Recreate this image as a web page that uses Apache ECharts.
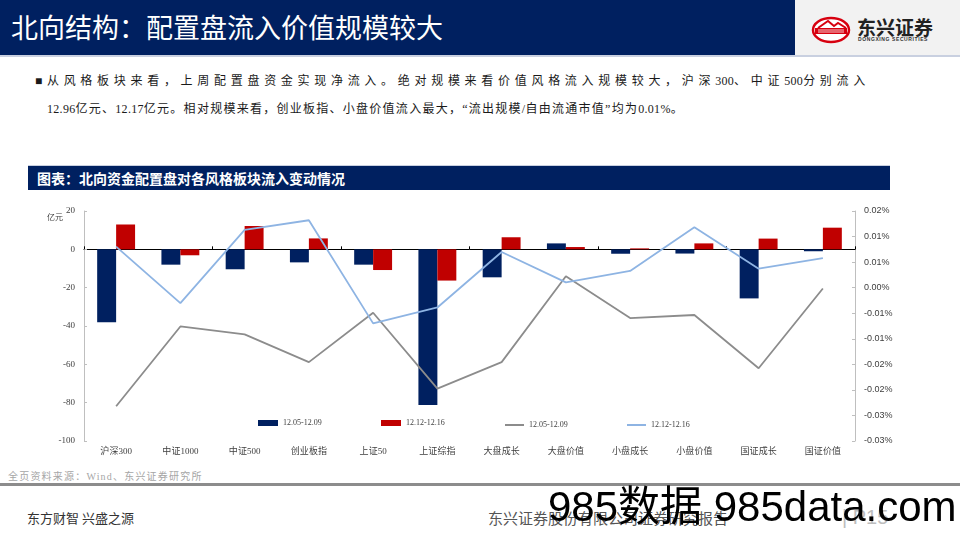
<!DOCTYPE html>
<html><head><meta charset="utf-8">
<script src="https://cdn.jsdelivr.net/npm/echarts@6/dist/echarts.min.js"></script>
<style>
html,body{margin:0;padding:0;width:960px;height:540px;overflow:hidden;background:#fff;}
#page{position:relative;width:960px;height:540px;}
.abs{position:absolute;white-space:nowrap;}
#chart{position:absolute;left:0;top:0;width:960px;height:540px;z-index:2;}
.para{font-family:'Liberation Serif','Noto Sans CJK SC',serif;font-size:12px;color:#1a1a1a;line-height:16px;}
.para .d{letter-spacing:0.3px;}
</style></head><body><div id="page">
<div class="abs" style="left:0;top:0;width:795px;height:55px;background:#002060;"></div>
<div class="abs" style="left:795px;top:0;width:165px;height:55px;background:#f2f2f2;"></div>
<div class="abs" style="left:0;top:55px;width:960px;height:2px;background:#c9d0e0;"></div>
<div class="abs" style="left:11px;top:7px;font:27px/40px 'Noto Sans CJK SC',sans-serif;color:#fff;">北向结构：配置盘流入价值规模较大</div>
<svg class="abs" style="left:810px;top:15px;" width="44" height="30" viewBox="0 0 44 30">
 <ellipse cx="21" cy="15" rx="18" ry="12" fill="#fff" stroke="#d7000f" stroke-width="2.5"/>
 <rect x="5" y="13" width="32" height="6" fill="#d7000f"/>
 <path d="M8 13 L18 6 L24 11 L28 8 L36 13" fill="none" stroke="#d7000f" stroke-width="2"/>
 <line x1="8" y1="15" x2="34" y2="15" stroke="#fff" stroke-width="0.8"/>
 <line x1="8" y1="17" x2="34" y2="17" stroke="#fff" stroke-width="0.8"/>
</svg>
<div class="abs" style="left:857px;top:16px;font:bold 19px/22px 'Noto Sans CJK SC',sans-serif;color:#222;">东兴证券</div>
<div class="abs" style="left:858px;top:36px;font:bold 5px/6px 'Liberation Sans',sans-serif;color:#333;letter-spacing:0.6px;">DONGXING SECURITIES</div>

<div id="p1" class="abs para" style="left:35px;top:73px;">■从风格板块来看，上周配置盘资金实现净流入。绝对规模来看价值风格流入规模较大，沪深<span class="d">300</span>、中证<span class="d">500</span>分别流入</div>
<div id="p2" class="abs para" style="left:47px;top:101px;"><span class="d">12.96</span>亿元、<span class="d">12.17</span>亿元。相对规模来看，创业板指、小盘价值流入最大，“流出规模<span class="d">/</span>自由流通市值”均为<span class="d">0.01%</span>。</div>

<div class="abs" style="left:28px;top:165px;width:862px;height:25px;background:#002060;border-top:1px solid #c9d0e0;box-sizing:border-box;"></div>
<div class="abs" style="left:37px;top:168px;font:bold 14px/20px 'Noto Sans CJK SC',sans-serif;color:#fff;">图表：北向资金配置盘对各风格板块流入变动情况</div>

<div class="abs" style="left:8px;top:470px;font:10px/14px 'Liberation Serif','Noto Sans CJK SC',serif;color:#a6a6a6;letter-spacing:1.2px;">全页资料来源：Wind、东兴证券研究所</div>
<div class="abs" style="left:0;top:483px;width:960px;height:3px;background:#8c8c8c;"></div>
<div class="abs" style="left:27px;top:510px;font:13px/16px 'Noto Sans CJK SC',serif;color:#333;">东方财智 兴盛之源</div>
<div class="abs" style="left:488px;top:509px;font:15px/18px 'Noto Sans CJK SC',serif;color:#555;">东兴证券股份有限公司证券研究报告</div>
<div class="abs" style="left:842px;top:505px;font:20px/24px 'Liberation Sans',sans-serif;color:#bdbdbd;">| P15</div>

<div id="chart"></div>
<div class="abs" style="left:548px;top:482px;font:42px/50px 'Liberation Sans','Noto Sans CJK SC',sans-serif;color:#000;z-index:5;">985数据 985data.com</div>
</div>
<script>
// ---- data ----
const categories = ['沪深300','中证1000','中证500','创业板指','上证50','上证综指','大盘成长','大盘价值','小盘成长','小盘价值','国证成长','国证价值'];
const flowPrev = [-38.1, -8.0, -10.4, -6.8, -8.0, -81.2, -14.6, 3.1, -2.3, -2.2, -25.6, -1.0];   // 亿元 12.05-12.09
const flowCurr = [12.96, -3.1, 12.17, 5.7, -10.8, -16.3, 6.3, 1.2, 0.5, 3.1, 5.6, 11.3];        // 亿元 12.12-12.16
const ratioPrev = [-0.0269, -0.0088, -0.0106, -0.0169, -0.0057, -0.0229, -0.0169, 0.0026, -0.0069, -0.0062, -0.0183, -0.0002]; // % 12.05-12.09
const ratioCurr = [0.0093, -0.0035, 0.0131, 0.0153, -0.0081, -0.0045, 0.0081, 0.0012, 0.0038, 0.0137, 0.0043, 0.0067];          // % 12.12-12.16
const seriesNames = ['12.05-12.09', '12.12-12.16', '12.05-12.09 ', '12.12-12.16 '];
const leftAxis = {min: -100, max: 20, interval: 20};
const rightAxis = {min: -0.0348, max: 0.0174, interval: 0.0058};

// ---- paragraph fitting (spacing only between CJK characters) ----
function fit(id, target){
  const el = document.getElementById(id);
  let n = 0;
  el.childNodes.forEach(nd => { if (nd.nodeType === 3) n += nd.textContent.length; });
  const w = el.getBoundingClientRect().width;
  el.style.letterSpacing = ((target - w) / n) + 'px';
}
fit('p1', 835); fit('p2', 637);

const serif = "'Liberation Serif','Noto Sans CJK SC',serif";
const chart = echarts.init(document.getElementById('chart'), null, {renderer: 'canvas'});
const legendBase = {orient: 'horizontal', top: 419, padding: 0, itemGap: 0,
  textStyle: {fontSize: 8, fontFamily: serif, color: '#404040'}};
chart.setOption({
  backgroundColor: 'transparent',
  animation: false,
  grid: {left: 84, right: 105, top: 211, bottom: 99, containLabel: false},
  graphic: [{type: 'text', left: 47, top: 214, style: {text: '亿元', fontSize: 8, fontFamily: serif, fill: '#404040'}}],
  legend: [
    Object.assign({}, legendBase, {left: 258, data: [{name: seriesNames[0], icon: 'rect'}], itemWidth: 20, itemHeight: 6}),
    Object.assign({}, legendBase, {left: 381, data: [{name: seriesNames[1], icon: 'rect'}], itemWidth: 20, itemHeight: 6}),
    Object.assign({}, legendBase, {left: 505, top: 421, data: [{name: seriesNames[2], icon: 'rect'}], itemWidth: 19, itemHeight: 2}),
    Object.assign({}, legendBase, {left: 627, top: 421, data: [{name: seriesNames[3], icon: 'rect'}], itemWidth: 19, itemHeight: 2})
  ],
  xAxis: [
    {type: 'category', data: categories, position: 'bottom', boundaryGap: true,
     axisLine: {show: true, onZero: true, onZeroAxisIndex: 0, lineStyle: {color: '#000', width: 1}},
     axisTick: {show: true, inside: true, length: 3, lineStyle: {color: '#000'}},
     axisLabel: {show: false}, splitLine: {show: false}},
    {type: 'category', data: categories, position: 'bottom', boundaryGap: true,
     axisLine: {show: false, onZero: false}, axisTick: {show: false},
     axisLabel: {show: true, interval: 0, margin: 6, fontSize: 9, fontFamily: serif, color: '#404040'},
     splitLine: {show: false}}
  ],
  yAxis: [
    {type: 'value', position: 'left', min: leftAxis.min, max: leftAxis.max, interval: leftAxis.interval,
     axisLine: {show: true, lineStyle: {color: '#bfbfbf'}},
     axisTick: {show: true, inside: true, length: 3, lineStyle: {color: '#bfbfbf'}},
     axisLabel: {fontSize: 9, fontFamily: serif, color: '#404040', margin: 9},
     splitLine: {show: false}},
    {type: 'value', position: 'right', min: rightAxis.min, max: rightAxis.max, interval: rightAxis.interval,
     axisLine: {show: true, lineStyle: {color: '#bfbfbf'}},
     axisTick: {show: true, inside: true, length: 3, lineStyle: {color: '#bfbfbf'}},
     axisLabel: {fontSize: 9, fontFamily: "'Liberation Sans',sans-serif", color: '#404040', margin: 9,
       formatter: v => (Math.abs(v) < 1e-9 ? 0 : v).toFixed(2) + '%'},
     splitLine: {show: false}}
  ],
  series: [
    {name: seriesNames[0], type: 'bar', xAxisIndex: 0, yAxisIndex: 0, data: flowPrev,
     barGap: '0%', barCategoryGap: '41%', itemStyle: {color: '#002060'}},
    {name: seriesNames[1], type: 'bar', xAxisIndex: 0, yAxisIndex: 0, data: flowCurr,
     barGap: '0%', barCategoryGap: '41%', itemStyle: {color: '#c00000'}},
    {name: seriesNames[2], type: 'line', xAxisIndex: 0, yAxisIndex: 1, data: ratioPrev,
     symbol: 'none', lineStyle: {color: '#8c8c8c', width: 1.8}, itemStyle: {color: '#8c8c8c'}},
    {name: seriesNames[3], type: 'line', xAxisIndex: 0, yAxisIndex: 1, data: ratioCurr,
     symbol: 'none', lineStyle: {color: '#8eb4e3', width: 1.8}, itemStyle: {color: '#8eb4e3'}}
  ]
});
</script>
</body></html>
